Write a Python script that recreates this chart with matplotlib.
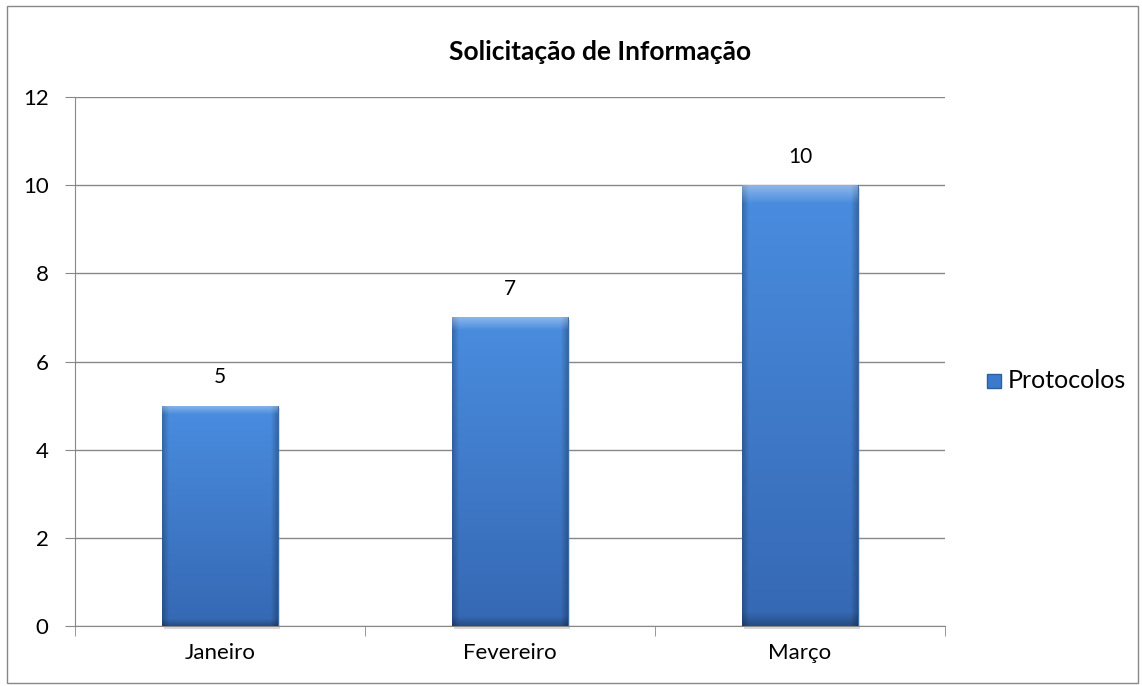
import numpy as np
import matplotlib
matplotlib.use("Agg")
import matplotlib.pyplot as plt
from matplotlib.patches import Rectangle
from matplotlib.colors import to_rgb

# dados
meses    = ["Janeiro", "Fevereiro", "Março"]
valores  = [5, 7, 10]
serie    = "Protocolos"
titulo   = "Solicitação de Informação"
y_ticks  = [0, 2, 4, 6, 8, 10, 12]

plt.rcParams["font.family"] = ["Lato", "DejaVu Sans"]

fig = plt.figure(figsize=(11.42, 6.86), dpi=100)
ax = fig.add_axes([75 / 1142, 60 / 686, 870 / 1142, 529 / 686])


def textura_barra(n=200):
    # gradiente vertical + bordas chanfradas (efeito do Excel)
    topo = np.array(to_rgb("#4a8de0"))
    base = np.array(to_rgb("#3568b3"))
    t = np.linspace(0, 1, n).reshape(-1, 1, 1)
    img = topo * (1 - t) + base * t
    img = np.repeat(img, n, axis=1)
    u = np.linspace(0, 1, n)
    borda_h = np.clip(1 - np.minimum(u, 1 - u) / 0.06, 0, 1)
    img = img * (1 - 0.25 * borda_h.reshape(1, -1, 1))
    borda_top = np.clip(1 - u / 0.04, 0, 1).reshape(-1, 1, 1)
    img = img + (1 - img) * 0.35 * borda_top
    borda_bot = np.clip(1 - (1 - u) / 0.03, 0, 1).reshape(-1, 1, 1)
    img = img * (1 - 0.25 * borda_bot)
    return np.clip(img, 0, 1)


barras = ax.bar(np.arange(len(meses)), valores, width=0.4, color="#3c7bcc",
                edgecolor="#2d5f9e", linewidth=0.6, zorder=3)

for b in barras:
    x0, w, h = b.get_x(), b.get_width(), b.get_height()
    im = ax.imshow(textura_barra(), aspect="auto", extent=(x0, x0 + w, 0, h),
                   zorder=3, interpolation="bilinear")
    im.set_clip_path(b)
    ax.add_patch(Rectangle((x0 + 0.008, -0.06), w, h, color="#999999",
                           alpha=0.35, zorder=2, lw=0, clip_on=False))
    ax.text(x0 + w / 2, h + 0.42, str(int(h)), ha="center", va="bottom",
            fontsize=15, color="black")

ax.set_xlim(-0.5, len(meses) - 0.5)
ax.set_ylim(0, 12)
ax.set_yticks(y_ticks)
ax.set_yticklabels([str(v) for v in y_ticks], fontsize=16)
ax.set_xticks(np.arange(len(meses)))
ax.set_xticklabels(meses, fontsize=16)
ax.set_xticks(np.arange(-0.5, len(meses)), minor=True)
ax.tick_params(axis="x", which="major", length=0, pad=12)
ax.tick_params(axis="x", which="minor", length=7, color="#888888")
ax.tick_params(axis="y", length=7, color="#888888", pad=12)
ax.grid(axis="y", color="#888888", lw=1, zorder=0)

for lado in ["top", "right"]:
    ax.spines[lado].set_visible(False)
ax.spines["left"].set_color("#888888")
ax.spines["bottom"].set_color("#888888")

fig.text(600 / 1142, 1 - 52 / 686, titulo, ha="center", va="center",
         fontsize=19, fontweight="bold")

# legenda
fig.patches.append(Rectangle((987 / 1142, 1 - 388 / 686), 14 / 1142, 14 / 686,
                             transform=fig.transFigure, facecolor="#3c7bcc",
                             edgecolor="#2d5f9e", figure=fig))
fig.text(1008 / 1142, 1 - 380 / 686, serie, ha="left", va="center", fontsize=18)

# borda do gráfico
fig.patches.append(Rectangle((7 / 1142, 3 / 686), 1131 / 1142, 677 / 686,
                             transform=fig.transFigure, fill=False,
                             edgecolor="#888888", lw=1, figure=fig))

fig.savefig("out.png", dpi=100)
